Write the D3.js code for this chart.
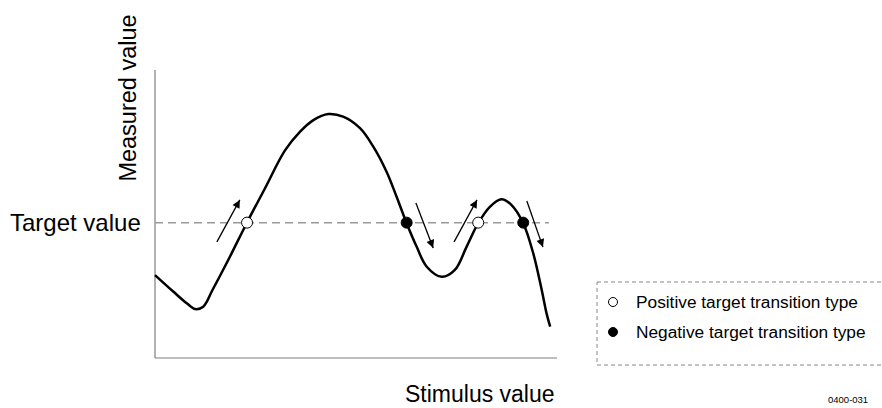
<!DOCTYPE html>
<html><head><meta charset="utf-8">
<script src="https://cdn.jsdelivr.net/npm/d3@7"></script>
<style>html,body{margin:0;padding:0;background:#fff;}svg{display:block;font-family:"Liberation Sans",Arial,sans-serif;}</style>
</head><body>
<svg id="c" width="882" height="408"></svg>
<script>
// Curve samples: stimulus (x) and measured (y), arbitrary units 0-100
const stimulus = [0,4.6,7.9,10,12,14.3,18.5,22.8,27.5,32.3,36.1,39.4,43.1,46.8,51,54.3,57.6,60.1,62.6,65.1,67.6,71.3,74.6,77.5,80.4,83.3,86.2,88.7,91.6,94.1,96.2,97.4,98.3];
const measured = [28.8,23,19,17,17.8,23.6,34.8,46.8,59.3,72,78.6,82.6,84.7,83.8,79.8,73.4,64.7,56,46.8,38.6,31.7,28.2,30.6,38.6,46.8,52.5,55.1,53.1,46.8,36.3,23.6,15.5,10.9];
const targetValue = 47;
const transitionX = [22.9,62.6,80.4,91.6];
const transitionType = ["positive","negative","positive","negative"];
const arrowX0 = [15.4,64.9,74.4,92.5];
const arrowY0 = [40.3,53.8,40.3,54.5];
const arrowX1 = [21.1,69.2,80.1,96.5];
const arrowY1 = [54.9,38.2,54.9,38.5];
const legendLabels = ["Positive target transition type","Negative target transition type"];
const legendTypes = ["positive","negative"];

const svg = d3.select("#c");
const x = d3.scaleLinear().domain([0,100]).range([155,557]);
const y = d3.scaleLinear().domain([0,100]).range([358,70]);

svg.append("defs").append("marker")
  .attr("id","ah").attr("viewBox","0 0 10 10").attr("refX",10).attr("refY",5)
  .attr("markerWidth",13).attr("markerHeight",8).attr("markerUnits","userSpaceOnUse")
  .attr("orient","auto")
  .append("path").attr("d","M0,0 L10,5 L0,10 Z").attr("fill","#000");

// axes
svg.append("line").attr("x1",x(0)).attr("x2",x(0)).attr("y1",y(100)).attr("y2",y(0))
  .attr("stroke","#7f7f7f").attr("stroke-width",1.2);
svg.append("line").attr("x1",x(0)).attr("x2",x(100)).attr("y1",y(0)).attr("y2",y(0))
  .attr("stroke","#7f7f7f").attr("stroke-width",1.2);

// target line
svg.append("line").attr("x1",x(0)).attr("x2",x(98)).attr("y1",y(targetValue)).attr("y2",y(targetValue))
  .attr("stroke","#999").attr("stroke-width",1.5).attr("stroke-dasharray","8,5");

// curve
const pts = stimulus.map((s,i)=>[s,measured[i]]);
svg.append("path").datum(pts)
  .attr("d", d3.line().x(d=>x(d[0])).y(d=>y(d[1])).curve(d3.curveCatmullRom.alpha(0.5)))
  .attr("fill","none").attr("stroke","#000").attr("stroke-width",2.5);

// arrows
svg.selectAll("line.arr").data(arrowX0).join("line").attr("class","arr")
  .attr("x1",(d,i)=>x(arrowX0[i])).attr("y1",(d,i)=>y(arrowY0[i]))
  .attr("x2",(d,i)=>x(arrowX1[i])).attr("y2",(d,i)=>y(arrowY1[i]))
  .attr("stroke","#000").attr("stroke-width",1.3).attr("marker-end","url(#ah)");

// transition points
svg.selectAll("circle.tp").data(transitionX).join("circle").attr("class","tp")
  .attr("cx",d=>x(d)).attr("cy",y(targetValue)).attr("r",5.5)
  .attr("fill",(d,i)=>transitionType[i]==="positive"?"#fff":"#000")
  .attr("stroke","#000").attr("stroke-width",1);

// labels
svg.append("text").attr("transform",`translate(136,98) rotate(-90)`)
  .attr("text-anchor","middle").attr("font-size",23.5).text("Measured value");
svg.append("text").attr("x",10).attr("y",231).attr("font-size",24).text("Target value");
svg.append("text").attr("x",405).attr("y",402).attr("font-size",23).text("Stimulus value");
svg.append("text").attr("x",828).attr("y",403).attr("font-size",9.5).text("0400-031");

// legend
svg.append("rect").attr("x",597).attr("y",282).attr("width",300).attr("height",83)
  .attr("fill","none").attr("stroke","#888").attr("stroke-width",1).attr("stroke-dasharray","4,3");
const lg = svg.selectAll("g.lg").data(legendLabels).join("g").attr("class","lg")
  .attr("transform",(d,i)=>`translate(613,${302+i*30})`);
lg.append("circle").attr("r",4.5)
  .attr("fill",(d,i)=>legendTypes[i]==="positive"?"#fff":"#000").attr("stroke","#000").attr("stroke-width",1);
lg.append("text").attr("x",23).attr("y",6).attr("font-size",17.3).text(d=>d);
</script>
</body></html>
